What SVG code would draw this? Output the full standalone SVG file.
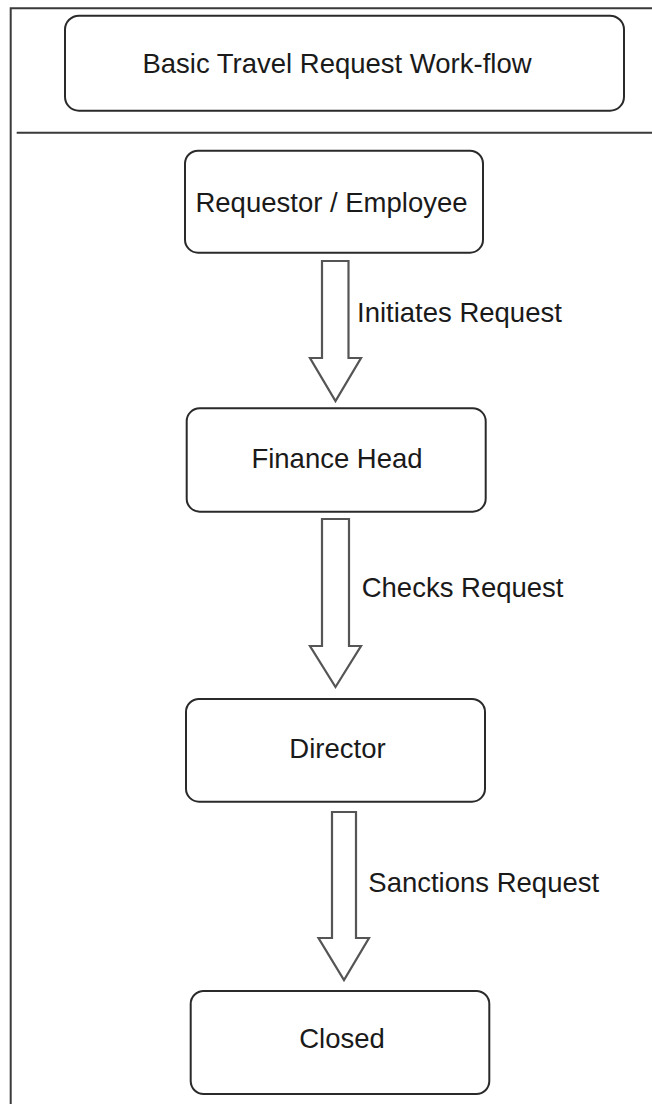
<svg xmlns="http://www.w3.org/2000/svg" width="652" height="1104" viewBox="0 0 652 1104">
<style>
  .frame { fill: none; stroke: #3a3a3a; stroke-width: 2; }
  .box { fill: #ffffff; stroke: #2a2a2a; stroke-width: 2; }
  .arrow { fill: #ffffff; stroke: #555555; stroke-width: 2.2; stroke-linejoin: miter; }
  .lbl { font-family: "Liberation Sans", Arial, sans-serif; font-size: 27.5px; fill: #1a1a1a; }
  .mid { text-anchor: middle; }
</style>
<rect width="652" height="1104" fill="#ffffff"/>
<g id="frame">
  <path class="frame" d="M10.7,1104 V8.3 H652"/>
  <line class="frame" x1="16.7" y1="132.7" x2="652" y2="132.7"/>
</g>
<g id="title">
  <rect class="box" x="65" y="15.7" width="559" height="95" rx="14" ry="14"/>
  <text class="lbl mid" x="337" y="73.3">Basic Travel Request Work-flow</text>
</g>
<g id="requestor">
  <rect class="box" x="185" y="150.7" width="298" height="102" rx="13" ry="13"/>
  <text class="lbl mid" x="331.5" y="211.7">Requestor / Employee</text>
</g>
<g id="finance">
  <rect class="box" x="186.7" y="408.3" width="299" height="103.4" rx="13" ry="13"/>
  <text class="lbl mid" x="337" y="468.3">Finance Head</text>
</g>
<g id="director">
  <rect class="box" x="186" y="699" width="299" height="102.7" rx="13" ry="13"/>
  <text class="lbl mid" x="337.5" y="758.3">Director</text>
</g>
<g id="closed">
  <rect class="box" x="190.7" y="991" width="298.6" height="103" rx="13" ry="13"/>
  <text class="lbl mid" x="342" y="1048">Closed</text>
</g>
<g id="connectors">
  <polygon class="arrow" points="322,261 348.5,261 348.5,358 361,358 335.5,401 310,358 322,358"/>
  <text class="lbl" x="357" y="321.7">Initiates Request</text>
  <polygon class="arrow" points="322,519 349,519 349,646 361,646 335.5,687 310,646 322,646"/>
  <text class="lbl" x="361.7" y="596.7">Checks Request</text>
  <polygon class="arrow" points="332,812 356,812 356,938 369,938 344,980 318.5,938 332,938"/>
  <text class="lbl" x="368.3" y="891.7">Sanctions Request</text>
</g>
</svg>
